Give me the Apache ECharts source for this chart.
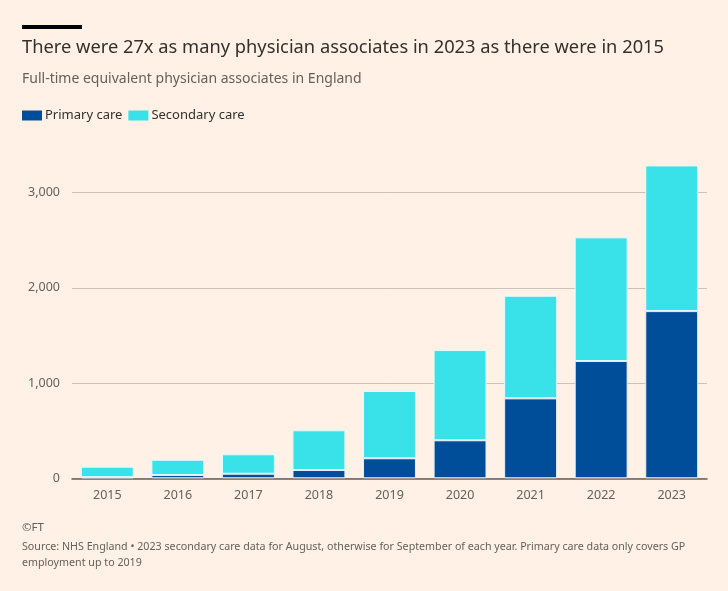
<!DOCTYPE html>
<html lang="en">
<head>
    <meta charset="utf-8">
    <title>Physician associates in England</title>
    <style>
        html, body {
            margin: 0;
            padding: 0;
            background: #fff1e5;
        }

        #chart {
            width: 728px;
            height: 591px;
        }
    </style>
</head>

<body>
    <div id="chart"></div>

<script src="https://cdn.jsdelivr.net/npm/echarts@6/dist/echarts.min.js"></script>
<script>
    // data (FTE, approx.)
    var years = ['2015', '2016', '2017', '2018', '2019', '2020', '2021', '2022', '2023'];
    var primaryCare = [12, 35, 48, 87, 210, 399, 839, 1231, 1755];
    var secondaryCare = [110, 160, 204, 417, 706, 947, 1077, 1298, 1529];
    var yTicks = [0, 1000, 2000, 3000];

    var font = '"Noto Sans", sans-serif';

    var myChart = echarts.init(document.getElementById('chart'));

    var option = {
        backgroundColor: '#fff1e5',
        animation: false,
        textStyle: { fontFamily: font },
        title: [
            {
                text: 'There were 27x as many physician associates in 2023 as there were in 2015',
                left: 22, top: 39, padding: 0,
                textStyle: { fontSize: 18.3, fontWeight: 'normal', color: '#33302e', fontFamily: font }
            },
            {
                text: 'Full-time equivalent physician associates in England',
                left: 22, top: 72, padding: 0,
                textStyle: { fontSize: 14, fontWeight: 'normal', color: '#66605c', fontFamily: font }
            },
            {
                text: '©FT',
                left: 22, top: 522, padding: 0,
                textStyle: { fontSize: 11.5, fontWeight: 'normal', color: '#66605c', fontFamily: font }
            },
            {
                text: 'Source: NHS England • 2023 secondary care data for August, otherwise for September of each year. Primary care data only covers GP\nemployment up to 2019',
                left: 22, top: 539, padding: 0,
                textStyle: { fontSize: 10.7, fontWeight: 'normal', color: '#66605c', fontFamily: font, lineHeight: 16 }
            }
        ],
        graphic: [
            {
                type: 'rect',
                left: 22, top: 25,
                shape: { width: 60, height: 4 },
                style: { fill: '#000000' }
            }
        ],
        legend: {
            left: 22, top: 109, padding: 0,
            itemWidth: 20, itemHeight: 10, itemGap: 6,
            icon: 'rect',
            itemStyle: { borderWidth: 0 },
            textStyle: { fontSize: 13, color: '#33302e', fontFamily: font, padding: [0, 0, 0, -2] },
            data: ['Primary care', 'Secondary care']
        },
        grid: {
            left: 72, right: 21, top: 192.5, bottom: 112.7
        },
        xAxis: {
            type: 'category',
            data: years,
            axisLine: { lineStyle: { color: '#66605c', width: 1.5 } },
            axisTick: { alignWithLabel: true, length: 6, lineStyle: { color: '#b3a9a0' } },
            axisLabel: { fontSize: 12.5, color: '#66605c', margin: 11 }
        },
        yAxis: {
            type: 'value',
            min: 0, max: 3000, interval: 1000,
            axisLine: { show: false },
            axisTick: { show: false },
            axisLabel: {
                fontSize: 12.5, color: '#66605c', margin: 12,
                formatter: function (v) {
                    return yTicks.indexOf(v) >= 0 ? v.toLocaleString('en-US') : '';
                }
            },
            splitLine: { lineStyle: { color: '#ccc1b7' } }
        },
        series: [
            {
                name: 'Primary care',
                type: 'bar',
                stack: 'total',
                clip: false,
                barCategoryGap: '25%',
                itemStyle: { color: '#004e9a', borderColor: '#e8eef5', borderWidth: 1 },
                data: primaryCare
            },
            {
                name: 'Secondary care',
                type: 'bar',
                stack: 'total',
                clip: false,
                itemStyle: { color: '#39e1e8', borderColor: '#e3fafb', borderWidth: 1 },
                data: secondaryCare
            }
        ]
    };
    myChart.setOption(option);
</script>
</body>
</html>
